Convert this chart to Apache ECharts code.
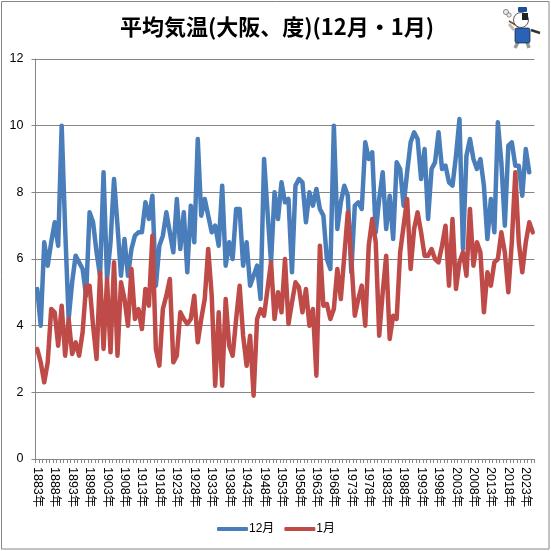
<!DOCTYPE html>
<html><head><meta charset="utf-8">
<style>html,body{margin:0;padding:0;background:#fff}#c{width:551px;height:551px}</style>
<script src="https://cdn.jsdelivr.net/npm/echarts@6/dist/echarts.min.js"></script>
</head><body><div id="c"></div>
<script>
const titleText = '平均気温(大阪、度)(12月・1月)';
const firstYear = 1883, lastYear = 2025;
const years = [];
for (let y = firstYear; y <= lastYear; y++) years.push(y + '年');
const dec = [5.1,4.0,6.5,5.8,6.5,7.1,6.4,10.0,6.9,4.2,5.3,6.1,5.9,5.7,4.9,7.4,7.1,6.2,5.5,8.6,
5.4,6.5,8.4,7.0,5.5,6.6,5.5,6.3,6.7,6.8,6.8,7.7,7.2,7.9,5.2,6.4,6.7,7.4,6.8,6.2,
7.8,6.3,7.4,5.6,7.6,6.5,9.6,7.3,7.8,7.3,6.8,7.0,6.4,8.2,5.8,6.5,6.0,7.5,7.5,5.8,
6.5,5.2,5.5,5.8,4.8,9.0,7.4,5.9,8.0,7.2,8.3,7.7,7.8,5.6,8.2,8.4,8.3,7.1,8.0,7.6,
8.1,7.5,7.3,6.0,5.7,10.0,6.9,7.7,8.2,7.9,5.6,7.6,7.7,7.5,9.5,9.0,9.2,6.8,7.8,8.6,
6.9,7.9,6.6,8.9,8.7,7.6,8.6,9.5,9.8,9.6,8.4,9.3,7.2,8.7,8.9,9.8,8.7,8.8,8.3,8.2,
9.1,10.2,6.3,9.1,9.6,9.0,8.7,9.0,8.2,6.6,7.8,6.8,10.1,8.9,7.0,9.4,9.5,8.8,8.8,7.9,
9.3,8.6];
const jan = [3.3,2.9,2.3,2.9,4.5,4.4,3.4,4.6,3.1,4.2,3.15,3.5,3.1,3.8,5.2,5.2,4.0,3.0,5.6,3.3,
5.4,3.2,5.9,3.1,5.3,4.8,4.0,5.7,4.2,4.5,3.9,5.1,4.6,6.7,3.3,2.8,4.5,4.9,5.4,2.9,
3.1,4.4,4.2,4.05,4.2,4.9,3.5,4.2,4.8,6.3,4.9,2.2,4.4,2.2,4.8,3.4,3.1,4.2,5.2,3.7,
2.8,3.7,1.9,4.2,4.5,4.3,5.1,5.9,4.2,5.0,4.4,6.0,4.05,4.7,5.3,5.15,4.4,5.1,4.0,4.5,
2.5,6.4,4.6,4.65,4.2,4.5,5.7,4.8,6.1,7.4,6.0,4.3,4.8,5.2,4.0,6.4,7.2,6.5,3.7,5.0,
6.1,3.6,4.3,4.2,6.2,7.0,7.8,5.7,6.9,7.4,6.8,6.1,6.1,6.3,6.0,5.9,6.4,7.0,5.2,7.2,
5.1,5.9,6.2,5.5,7.5,5.8,6.5,6.2,4.4,5.6,5.2,5.9,6.0,6.8,6.2,5.0,6.5,8.6,6.5,5.6,
6.5,7.1,6.8];
const yTicks = {min:0, max:12, step:2};
const gray = '#868686';
const chart = echarts.init(document.getElementById('c'), null, {renderer:'canvas'});
chart.setOption({
  animation:false,
  backgroundColor:'#fff',
  title:{text:titleText,left:272,top:11,textAlign:'center',
    textStyle:{fontFamily:'"Noto Sans CJK JP"',fontWeight:'bold',fontSize:22,color:'#000'}},
  legend:{left:212,top:518,itemWidth:31,itemHeight:4,itemGap:10,icon:'roundRect',
    textStyle:{fontFamily:'"Liberation Sans","Noto Sans CJK JP"',fontSize:12,color:'#000',padding:[0,0,0,-4]},
    data:['12月','1月']},
  grid:{left:35.5,right:16.5,top:59,bottom:92,containLabel:false},
  xAxis:{type:'category',data:years,boundaryGap:true,
    axisLine:{lineStyle:{color:gray,width:1}},
    axisTick:{show:true,interval:0,length:4,lineStyle:{color:gray}},
    axisLabel:{interval:(i)=>i%5===0,hideOverlap:false,rotate:-90,margin:8,color:'#000',fontSize:12.5,
      fontFamily:'"Liberation Sans","Noto Sans CJK JP"'},
    splitLine:{show:false}},
  yAxis:{type:'value',min:yTicks.min,max:yTicks.max,interval:yTicks.step,
    axisLine:{show:true,lineStyle:{color:gray,width:1}},
    axisTick:{show:true,length:4,lineStyle:{color:gray}},
    axisLabel:{margin:12,color:'#000',fontSize:12.5,fontFamily:'"Liberation Sans"'},
    splitLine:{show:true,lineStyle:{color:gray,width:1}}},
  series:[
    {name:'12月',type:'line',data:dec,showSymbol:false,symbol:'none',smooth:false,
      lineStyle:{color:'#4a7ebb',width:4.5,cap:'round',join:'round'},itemStyle:{color:'#4a7ebb'}},
    {name:'1月',type:'line',data:jan,showSymbol:false,symbol:'none',smooth:false,
      lineStyle:{color:'#be4b48',width:4.5,cap:'round',join:'round'},itemStyle:{color:'#be4b48'}}
  ],
  graphic:[
    {type:'rect',shape:{x:1.5,y:1.5,width:547.5,height:547.5},style:{fill:null,stroke:gray,lineWidth:1},silent:true},
    {type:'group',x:495,y:0,silent:true,children:[
      {type:'circle',shape:{cx:11,cy:12,r:2.6},style:{fill:'#e8e8e8',stroke:'#666',lineWidth:0.7}},
      {type:'circle',shape:{cx:14,cy:15,r:2.2},style:{fill:'#e8e8e8',stroke:'#666',lineWidth:0.7}},
      {type:'line',shape:{x1:14,y1:21,x2:24,y2:27},style:{stroke:'#7a4a20',lineWidth:1.5}},
      {type:'line',shape:{x1:19,y1:30,x2:14,y2:24},style:{stroke:'#bbb',lineWidth:3}},
      {type:'line',shape:{x1:36,y1:30,x2:45,y2:33},style:{stroke:'#333',lineWidth:2.5}},
      {type:'line',shape:{x1:23,y1:42,x2:20,y2:48},style:{stroke:'#999',lineWidth:3.5}},
      {type:'line',shape:{x1:32,y1:42,x2:34,y2:48},style:{stroke:'#999',lineWidth:3.5}},
      {type:'rect',shape:{x:20,y:28,width:15,height:15,r:2},style:{fill:'#2a62b5',stroke:'#123',lineWidth:0.7}},
      {type:'circle',shape:{cx:26,cy:20,r:7.5},style:{fill:'#fff',stroke:'#333',lineWidth:0.8}},
      {type:'rect',shape:{x:27,y:13,width:6,height:7},style:{fill:'#222'}},
      {type:'rect',shape:{x:23,y:7,width:9,height:5,r:1},style:{fill:'#1f4f9a'}}
    ]}
  ]
});
</script></body></html>
